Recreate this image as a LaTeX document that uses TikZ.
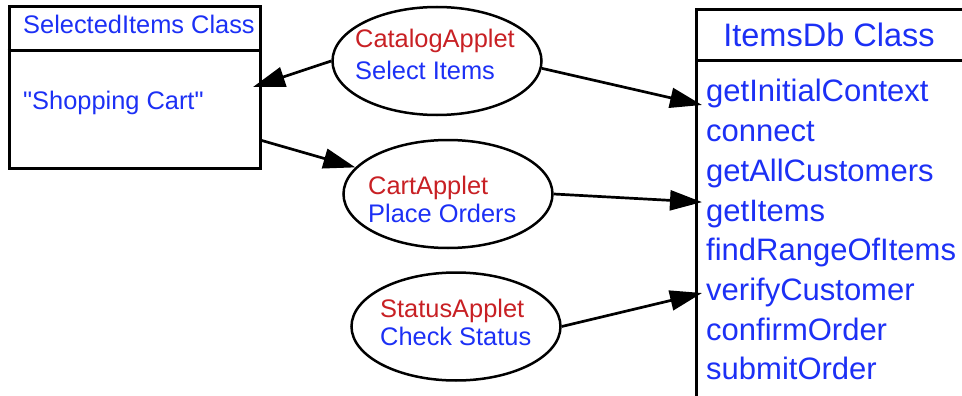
\documentclass[tikz,border=0pt]{standalone}
\usepackage{fontspec}
\setmainfont{Liberation Sans}
\usepackage{xcolor}
\usepackage{tikz}
\usetikzlibrary{arrows.meta, calc, shapes.geometric, positioning}
\definecolor{itemblue}{RGB}{28, 48, 245}
\definecolor{appletred}{RGB}{200, 32, 36}

\begin{document}
\begin{tikzpicture}[x=1pt, y=-1pt,
    applet/.style={ellipse, draw, line width=2.5pt, minimum width=209pt, minimum height=108pt, inner sep=0pt},
    classbox/.style={rectangle, draw, line width=3pt, inner sep=0pt},
    call/.style={-{Triangle[length=32pt, width=20pt]}, line width=2.7pt},
    smalltxt/.style={inner sep=0pt, anchor=base west, font=\fontsize{25.4}{30}\selectfont},
    methodtxt/.style={inner sep=0pt, anchor=base west, text=itemblue, font=\fontsize{31}{36}\selectfont},
    titletxt/.style={inner sep=0pt, anchor=base, text=itemblue, font=\fontsize{32.5}{38}\selectfont}]

  \useasboundingbox (0, 0) rectangle (962, 396);
  \clip (0, 0) rectangle (962, 396);

  % SelectedItems class
  \node[classbox, minimum width=251pt, minimum height=161pt] (sel) at (134.5, 87.5) {};
  \draw[line width=3pt] ($(sel.north west)+(0, 45)$) -- ($(sel.north east)+(0, 45)$);
  \node[smalltxt, text=itemblue] (seltitle) at (23, 34)  {SelectedItems Class};
  \node[smalltxt, text=itemblue] (selcart)  at (23, 110) {\textquotedbl Shopping Cart\textquotedbl};

  % ItemsDb class
  \node[classbox, minimum width=290pt, minimum height=420pt, anchor=north west] (db) at (695, 8) {};
  \draw[line width=3pt] ($(db.north west)+(0, 53)$) -- ($(db.north east)+(0, 53)$);
  \node[titletxt] (dbtitle) at (829, 47) {ItemsDb Class};
  \foreach \m [count=\i] in {getInitialContext, connect, getAllCustomers, getItems,
                             findRangeOfItems, verifyCustomer, confirmOrder, submitOrder}
    \node[methodtxt] (m\i) at (706, {102+(\i-1)*39.7}) {\m};

  % Applets
  \node[applet] (cat)    at (437, 61)    {};
  \node[applet] (cart)   at (448, 194)   {};
  \node[applet] (status) at (456, 326.5) {};

  \node[smalltxt, text=appletred] (catname)    at (355, 48)  {CatalogApplet};
  \node[smalltxt, text=itemblue]  (cattask)    at (355, 80)  {Select Items};
  \node[smalltxt, text=appletred] (cartname)   at (368, 194) {CartApplet};
  \node[smalltxt, text=itemblue]  (carttask)   at (368, 222) {Place Orders};
  \node[smalltxt, text=appletred] (statusname) at (380, 317) {StatusApplet};
  \node[smalltxt, text=itemblue]  (statustask) at (380, 345) {Check Status};

  % Calls
  \coordinate (selin)  at (253, 87);
  \coordinate (selout) at (260, 140);
  \draw[call] (cat.west) -- (selin);
  \draw[call] (selout) -- (cart);
  \draw[call] (cat.-4) -- ([xshift=-4pt, yshift=-3pt]m1.base west);
  \draw[call] (cart.east) -- ([xshift=-4pt, yshift=19pt]m4.base west);
  \draw[call] (status.east) -- ([xshift=-4pt, yshift=7.5pt]m6.base west);

\end{tikzpicture}
\end{document}
